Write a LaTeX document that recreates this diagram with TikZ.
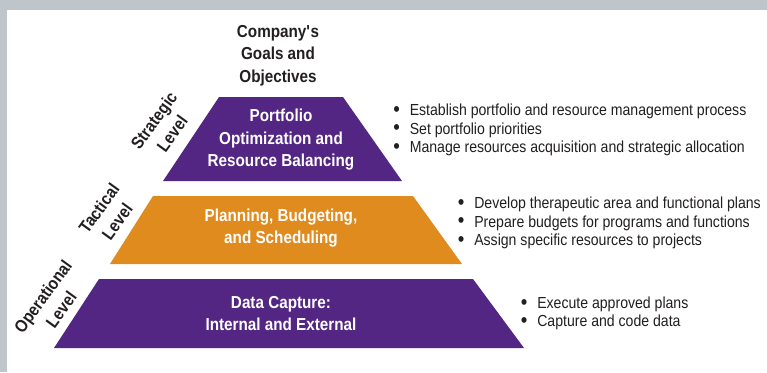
\documentclass[tikz,border=0pt]{standalone}
\usepackage{fontspec}
\setmainfont{Liberation Sans}[FakeStretch=0.88]
\definecolor{pyrpurple}{HTML}{542683}
\definecolor{pyrorange}{HTML}{E08B1E}
\definecolor{panelgrey}{HTML}{BEC5CB}
\definecolor{inktext}{HTML}{231F20}
% one bullet line of a task list
\newcommand{\bul}[1]{\makebox[12.4pt][l]{\raisebox{-0.6pt}{\fontsize{16}{0}\selectfont\textbullet}}#1}

\begin{document}
\begin{tikzpicture}[x=0.75pt, y=-0.75pt,
  boldtext/.style={font=\fontsize{13}{16.9}\selectfont\bfseries, align=center, inner sep=0},
  lvltext/.style={boldtext, text=white},
  sidetext/.style={boldtext, text=inktext, rotate=54},
  tasks/.style={font=\fontsize{12}{13.9}\selectfont, text=inktext, align=left, anchor=west, inner sep=0}]
\useasboundingbox (0,0) rectangle (767,372);
\fill[panelgrey] (0,0) rectangle (767,372);
\fill[white] (7,10) rectangle (767,372);

% pyramid levels, top to bottom
\fill[pyrpurple] (219,97) -- (343,97) -- (402,181) -- (163,181) -- cycle;
\fill[pyrorange] (153,196) -- (413,196) -- (462,264) -- (110,264) -- cycle;
\fill[pyrpurple] (99,279) -- (473,279) -- (524,348) -- (54,348) -- cycle;

\node[boldtext, text=inktext] (goal) at (278,55.5) {Company\textquotesingle s\\Goals and\\Objectives};

\node[lvltext] (lvl0) at (281,140) {Portfolio\\Optimization and\\Resource Balancing};
\node[lvltext] (lvl1) at (281,228) {Planning, Budgeting,\\and Scheduling};
\node[lvltext] (lvl2) at (281,313.5) {Data Capture:\\Internal and External};

\node[sidetext] (side0) at (163,127) {Strategic\\Level};
\node[sidetext] (side1) at (108,215) {Tactical\\Level};
\node[sidetext] (side2) at (52,303) {Operational\\Level};

\node[tasks] (task0) at (393,130) {\bul{Establish portfolio and resource management process}\\
  \bul{Set portfolio priorities}\\
  \bul{Manage resources acquisition and strategic allocation}};
\node[tasks] (task1) at (457.5,223) {\bul{Develop therapeutic area and functional plans}\\
  \bul{Prepare budgets for programs and functions}\\
  \bul{Assign specific resources to projects}};
\node[tasks] (task2) at (520.5,313.5) {\bul{Execute approved plans}\\
  \bul{Capture and code data}};

\end{tikzpicture}
\end{document}
